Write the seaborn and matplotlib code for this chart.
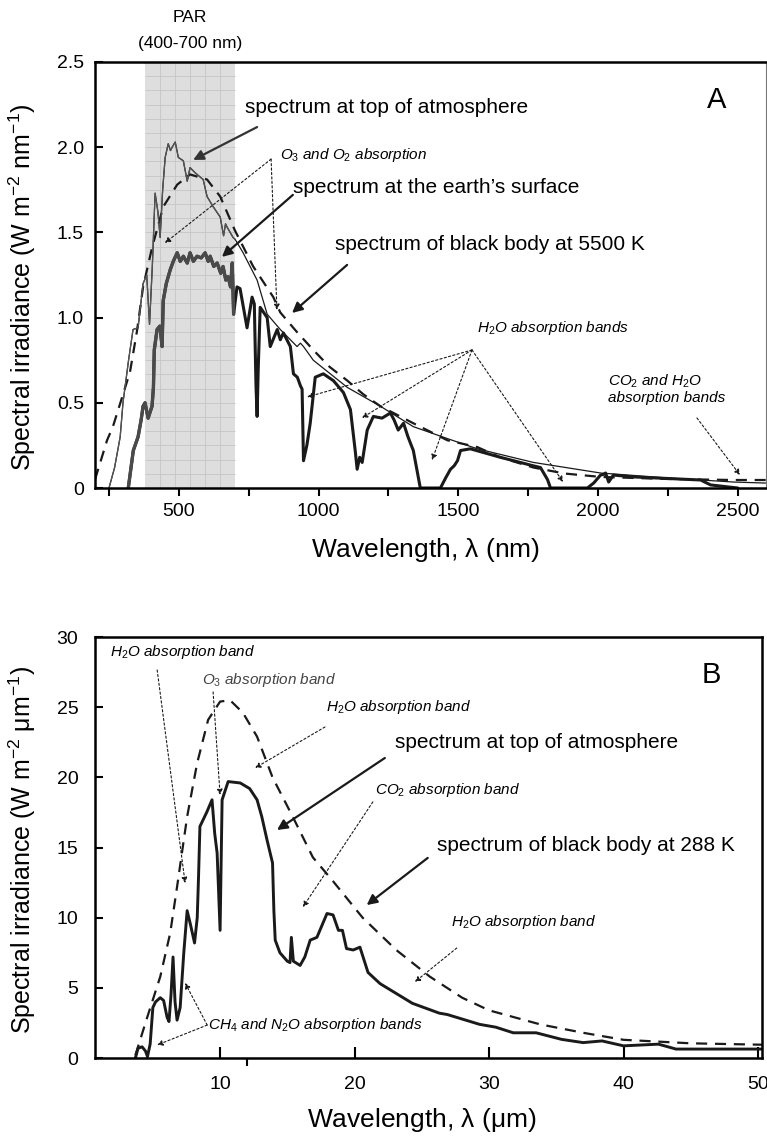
import numpy as np
import pandas as pd
import seaborn as sns
import matplotlib.pyplot as plt

# Panel A: solar spectrum, wavelength (nm) vs irradiance (W m-2 nm-1)
toa_nm = [250, 270, 290, 300, 320, 336, 354, 372, 385, 395, 405, 415, 425, 433, 442, 451, 462, 470,
          476, 487, 498, 516, 530, 540, 558, 587, 601, 623, 648, 660, 667, 673, 694, 701, 730, 780,
          816, 863, 923, 935, 946, 981, 1103, 1221, 1339, 1461, 1568, 1769, 2009, 2249, 2485, 2600]
toa_val = [0.0, 0.12, 0.30, 0.50, 0.75, 0.93, 0.94, 1.20, 1.25, 0.96, 1.30, 1.73, 1.62, 1.47, 1.75,
           1.94, 2.02, 1.98, 2.00, 2.03, 1.94, 1.92, 1.80, 1.88, 1.85, 1.81, 1.71, 1.65, 1.59, 1.48,
           1.55, 1.53, 1.47, 1.46, 1.38, 1.22, 1.02, 0.93, 0.83, 0.85, 0.83, 0.75, 0.59, 0.48, 0.36,
           0.29, 0.23, 0.15, 0.088, 0.059, 0.035, 0.029]

sfc_nm = [319, 337, 354, 365, 372, 379, 390, 404, 409, 412, 422, 432, 440, 444, 455, 469, 480, 494,
          505, 516, 530, 540, 552, 565, 580, 594, 605, 612, 625, 637, 650, 658, 668, 676, 685, 691,
          696, 708, 719, 744, 762, 770, 776, 780, 784, 791, 816, 827, 852, 863, 874, 899, 910, 924,
          935, 941, 946, 958, 970, 988, 1017, 1053, 1089, 1114, 1131, 1138, 1147, 1156, 1174, 1196,
          1227, 1257, 1270, 1285, 1304, 1320, 1339, 1364, 1436, 1455, 1472, 1485, 1497, 1508, 1543,
          1651, 1769, 1794, 1819, 1830, 1962, 1985, 2009, 2020, 2027, 2038, 2055, 2127, 2367, 2403,
          2500]
sfc_val = [0.0, 0.22, 0.30, 0.40, 0.48, 0.50, 0.41, 0.48, 0.59, 0.81, 0.93, 0.95, 0.83, 1.10, 1.20,
           1.28, 1.33, 1.38, 1.33, 1.36, 1.32, 1.38, 1.33, 1.36, 1.35, 1.38, 1.33, 1.36, 1.30, 1.32,
           1.26, 1.30, 1.22, 1.24, 1.18, 1.32, 1.02, 1.18, 1.17, 0.94, 1.12, 1.08, 0.60, 0.42, 0.70,
           1.06, 1.00, 0.83, 0.93, 0.87, 0.91, 0.83, 0.67, 0.65, 0.60, 0.58, 0.16, 0.25, 0.38, 0.65,
           0.67, 0.63, 0.56, 0.46, 0.22, 0.11, 0.18, 0.15, 0.34, 0.42, 0.41, 0.44, 0.40, 0.34, 0.38,
           0.30, 0.22, 0.0, 0.0, 0.06, 0.11, 0.13, 0.16, 0.22, 0.23, 0.18, 0.13, 0.12, 0.05, 0.0,
           0.0, 0.03, 0.076, 0.080, 0.088, 0.035, 0.076, 0.065, 0.047, 0.018, 0.0]

bb5500_nm = [200, 243, 264, 325, 350, 372, 404, 444, 494, 540, 601, 648, 701, 766, 838, 863, 920, 981,
             1040, 1103, 1160, 1221, 1280, 1339, 1400, 1461, 1568, 1650, 1769, 1880, 2009, 2249, 2485,
             2600]
bb5500_val = [0.05, 0.28, 0.36, 0.68, 0.92, 1.18, 1.41, 1.65, 1.78, 1.84, 1.81, 1.71, 1.51, 1.30, 1.12,
              1.03, 0.92, 0.81, 0.71, 0.63, 0.55, 0.48, 0.43, 0.38, 0.33, 0.28, 0.24, 0.18, 0.12, 0.085,
              0.065, 0.053, 0.047, 0.047]

# Panel B: terrestrial spectrum, wavelength (um) vs irradiance (W m-2 um-1)
toa_um = [3.7, 3.9, 4.2, 4.45, 4.6, 4.8, 5.0, 5.2, 5.55, 5.8, 6.06, 6.2, 6.35, 6.5, 6.65, 6.8, 7.03,
          7.3, 7.55, 7.8, 8.1, 8.3, 8.4, 8.5, 9.0, 9.4, 9.6, 9.78, 10.0, 10.15, 10.6, 11.5, 12.2,
          12.75, 13.1, 13.5, 13.9, 14.0, 14.1, 14.45, 15.0, 15.2, 15.3, 15.45, 15.95, 16.3, 16.7,
          17.2, 17.95, 18.4, 18.8, 19.1, 19.4, 19.9, 20.4, 21.0, 21.9, 24.3, 26.3, 26.9, 29.3, 30.5,
          31.8, 33.5, 35.4, 37.0, 38.4, 40.0, 42.6, 43.9, 50.3]
toa_um_val = [0.0, 0.7, 0.8, 0.5, 0.1, 1.0, 3.6, 4.0, 4.3, 4.1, 2.9, 2.6, 4.5, 7.2, 4.0, 2.7, 3.6,
              7.5, 10.5, 9.5, 8.2, 10.0, 13.0, 16.5, 17.5, 18.4, 16.0, 14.6, 9.1, 18.4, 19.7, 19.6,
              19.2, 18.4, 17.2, 15.5, 13.9, 10.5, 8.4, 7.5, 6.9, 6.8, 8.6, 6.9, 6.6, 7.2, 8.4, 8.6,
              10.3, 10.2, 9.1, 9.1, 7.8, 7.7, 7.9, 6.1, 5.3, 3.9, 3.2, 3.1, 2.4, 2.2, 1.8, 1.8, 1.33,
              1.1, 1.22, 0.87, 0.99, 0.64, 0.64]

bb288_um = [3.7, 4.58, 5.55, 6.29, 6.8, 7.55, 8.29, 9.11, 10.0, 10.74, 11.7, 12.75, 13.9, 15.4, 16.9,
            18.4, 20.6, 23.1, 25.6, 28.0, 30.0, 33.8, 37.0, 40.0, 45.0, 50.3]
bb288_val = [0.2, 2.9, 5.8, 8.9, 12.2, 17.2, 21.0, 24.1, 25.4, 25.5, 24.6, 22.9, 20.0, 17.2, 14.3,
             12.6, 10.0, 7.7, 5.8, 4.3, 3.4, 2.4, 1.8, 1.3, 1.05, 0.95]

par_lo, par_hi = 380, 700

sns.set_theme(style='ticks')
plt.rcParams['font.family'] = ['Liberation Sans', 'DejaVu Sans']
plt.rcParams['mathtext.fontset'] = 'custom'
plt.rcParams['mathtext.rm'] = 'Liberation Sans'
plt.rcParams['mathtext.it'] = 'Liberation Sans:italic'
plt.rcParams['mathtext.bf'] = 'Liberation Sans:bold'
for k in ['text.color', 'axes.labelcolor', 'xtick.color', 'ytick.color', 'axes.edgecolor']:
    plt.rcParams[k] = 'black'

fig = plt.figure(figsize=(7.67, 11.41), dpi=100)
axA = fig.add_axes([0.1239, 0.5723, 0.8744, 0.3734])
axB = fig.add_axes([0.1239, 0.0727, 0.8696, 0.3690])


def line(ax, x, y, **kw):
    sns.lineplot(x=x, y=y, ax=ax, sort=False, estimator=None, legend=False, **kw)


def arrow(ax, tail, head, dotted=False, color='k'):
    if dotted:
        props = dict(arrowstyle='-|>', color=color, lw=0.8, linestyle=(0, (2, 2)),
                     mutation_scale=8, shrinkA=0, shrinkB=0)
    else:
        props = dict(arrowstyle='-|>', color=color, lw=1.6, mutation_scale=15,
                     shrinkA=0, shrinkB=0)
    ax.annotate('', xy=head, xytext=tail, arrowprops=props, annotation_clip=False)


def split(x, y, lo, hi):
    x = np.asarray(x); y = np.asarray(y)
    inside = (x >= lo) & (x <= hi)
    return x, y, x[inside], y[inside]


# ---------------- panel A ----------------
ax = axA
ax.axvspan(par_lo, par_hi, color='#dedede', zorder=0, lw=0)
ax.vlines(np.linspace(par_lo, par_hi, 7)[1:-1], 0, 2.5, color='#c6c6c6', lw=0.6, zorder=0.5)
ax.hlines(np.arange(1, 30) * 2.5 / 30, par_lo, par_hi, color='#c6c6c6', lw=0.6, zorder=0.5)

line(ax, bb5500_nm, bb5500_val, color='k', lw=1.6, linestyle=(0, (5, 3.5)))
x, y, xi, yi = split(toa_nm, toa_val, 0, par_hi + 1)
line(ax, x, y, color='k', lw=0.9)
line(ax, xi, yi, color='#555555', lw=0.9)
x, y, xi, yi = split(sfc_nm, sfc_val, 0, par_hi - 3)
line(ax, x, y, color='k', lw=2.2)
line(ax, xi, yi, color='#4a4a4a', lw=2.4)

ax.set_xlim(200, 2600)
ax.set_ylim(0, 2.5)
ax.set_xticks([500, 1000, 1500, 2000, 2500])
ax.set_xticks([250, 750, 1250, 1750, 2250], minor=True)
ax.set_yticks([0, 0.5, 1.0, 1.5, 2.0, 2.5])
ax.set_yticklabels(['0', '0.5', '1.0', '1.5', '2.0', '2.5'])
ax.tick_params(axis='x', which='both', direction='out', length=6, width=1.5, labelsize=14, pad=5)
ax.tick_params(axis='y', direction='in', length=6, width=1.5, labelsize=14, pad=8)
for s in ['left', 'bottom', 'top']:
    ax.spines[s].set_linewidth(1.8)
ax.spines['right'].set_linewidth(0.8)
ax.spines['right'].set_color('#777777')
ax.set_xlabel(r'Wavelength, $\mathregular{\lambda}$ (nm)', fontsize=19)
ax.set_ylabel(r'Spectral irradiance (W m$\mathregular{^{-2}}$ nm$\mathregular{^{-1}}$)', fontsize=18)
ax.xaxis.set_label_coords(0.4925, -0.1455)
ax.yaxis.set_label_coords(-0.109, 0.47)
ax.xaxis.label.set_va('center')
ax.yaxis.label.set_va('center')

ax.text(540, 2.758, 'PAR', ha='center', va='center', fontsize=12.5, clip_on=False)
ax.text(540, 2.611, '(400-700 nm)', ha='center', va='center', fontsize=12.5, clip_on=False)
ax.text(2425, 2.277, 'A', ha='center', va='center', fontsize=21)

big = 15
small = 11
ax.text(737, 2.23, 'spectrum at top of atmosphere', fontsize=big, va='center')
arrow(ax, (780, 2.118), (551, 1.925), color='#333333')
ax.text(862, 1.954, r'$O_3$ and $O_2$ absorption', fontsize=small, style='italic', va='center')
arrow(ax, (830, 1.93), (450, 1.438), dotted=True)
arrow(ax, (830, 1.93), (851, 1.045), dotted=True)
ax.text(908, 1.766, 'spectrum at the earth\u2019s surface', fontsize=big, va='center')
arrow(ax, (908, 1.72), (654, 1.356))
ax.text(1059, 1.426, 'spectrum of black body at 5500 K', fontsize=big, va='center')
arrow(ax, (1102, 1.309), (905, 1.027))
ax.text(1567, 0.939, r'$H_2O$ absorption bands', fontsize=small, style='italic', va='center')
for head in [(959, 0.534), (1155, 0.411), (1406, 0.164), (1875, 0.035)]:
    arrow(ax, (1549, 0.81), head, dotted=True)
ax.text(2035, 0.581, '$CO_2$ and $H_2O$\nabsorption bands', fontsize=small, style='italic',
        va='center', linespacing=1.05)
arrow(ax, (2354, 0.411), (2508, 0.076), dotted=True)

# ---------------- panel B ----------------
ax = axB
line(ax, bb288_um, bb288_val, color='k', lw=1.6, linestyle=(0, (5, 3.5)))
line(ax, toa_um, toa_um_val, color='k', lw=2.1)

ax.set_xlim(0.7, 50.3)
ax.set_ylim(0, 30)
ax.set_xticks([10, 20, 30, 40, 50])
ax.set_xticks([12], minor=True)
ax.set_yticks([0, 5, 10, 15, 20, 25, 30])
ax.set_yticklabels(['0', '5', '10', '15', '20', '25', '30'])
ax.tick_params(axis='x', which='major', direction='in', length=8, width=1.5, labelsize=14, pad=13)
ax.tick_params(axis='x', which='minor', direction='out', length=6, width=1.5)
ax.tick_params(axis='y', direction='in', length=6, width=1.5, labelsize=14, pad=12)
for s in ['left', 'bottom', 'top', 'right']:
    ax.spines[s].set_linewidth(1.8)
ax.set_xlabel(r'Wavelength, $\mathregular{\lambda}$ ($\mathregular{\mu}$m)', fontsize=19)
ax.set_ylabel(r'Spectral irradiance (W m$\mathregular{^{-2}}$ $\mathregular{\mu}$m$\mathregular{^{-1}}$)',
              fontsize=18)
ax.xaxis.set_label_coords(0.49, -0.147)
ax.yaxis.set_label_coords(-0.109, 0.494)
ax.xaxis.label.set_va('center')
ax.yaxis.label.set_va('center')

ax.text(46.5, 27.3, 'B', ha='center', va='center', fontsize=21)
ax.text(1.83, 28.94, r'$H_2O$ absorption band', fontsize=small, style='italic', va='center')
arrow(ax, (5.32, 27.65), (7.4, 12.47), dotted=True)
ax.text(8.66, 26.94, r'$O_3$ absorption band', fontsize=small, style='italic', va='center',
        color='#444444')
arrow(ax, (9.48, 26.09), (10.0, 18.75), dotted=True)
ax.text(17.87, 25.0, r'$H_2O$ absorption band', fontsize=small, style='italic', va='center')
arrow(ax, (17.8, 23.59), (12.6, 20.67), dotted=True)
ax.text(23.0, 22.45, 'spectrum at top of atmosphere', fontsize=big, va='center')
arrow(ax, (22.25, 21.38), (14.23, 16.25))
ax.text(21.5, 19.1, r'$CO_2$ absorption band', fontsize=small, style='italic', va='center')
arrow(ax, (21.36, 18.25), (16.16, 10.76), dotted=True)
ax.text(26.1, 15.18, 'spectrum of black body at 288 K', fontsize=big, va='center')
arrow(ax, (25.44, 14.26), (20.9, 10.9))
ax.text(27.2, 9.69, r'$H_2O$ absorption band', fontsize=small, style='italic', va='center')
arrow(ax, (27.6, 7.84), (24.48, 5.42), dotted=True)
ax.text(9.11, 2.35, r'$CH_4$ and $N_2O$ absorption bands', fontsize=small, style='italic', va='center')
arrow(ax, (9.04, 2.35), (7.4, 5.35), dotted=True)
arrow(ax, (9.04, 2.35), (5.32, 0.93), dotted=True)

fig.savefig('out.png', dpi=100)
